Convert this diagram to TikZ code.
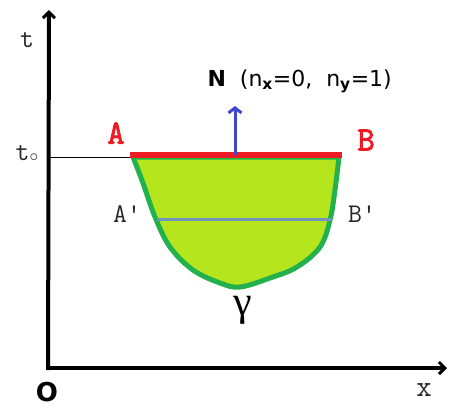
\documentclass[tikz,border=0pt]{standalone}
\usepackage{fontspec}
\setmainfont{DejaVu Sans}
\newfontfamily\monobold[FakeBold=2.5]{Latin Modern Mono}
\newfontfamily\gammafont{Liberation Serif}
\usetikzlibrary{arrows.meta}
\definecolor{redline}{HTML}{ED1C24}
\definecolor{fillgreen}{HTML}{B5E61D}
\definecolor{edgegreen}{HTML}{22B14C}
\definecolor{bluearrow}{HTML}{3F48CC}
\definecolor{midline}{HTML}{7092BE}
\tikzset{
  axis/.style={line width=4pt, -{Straight Barb[length=6pt,width=12pt,line width=3pt]}},
  monolab/.style={font=\ttfamily\fontsize{27}{27}\selectfont, text=black!85},
  redlab/.style={font=\monobold\fontsize{34}{34}\selectfont, text=redline},
}
\begin{document}
\begin{tikzpicture}[x=1pt,y=-1pt]
\useasboundingbox (0,0) rectangle (450,410);
% axes
\coordinate (O) at (49,368);
\coordinate (T) at (49,10);
\coordinate (X) at (447,368);
\draw[axis] (48,370) -- (T);
\draw[axis] (47,368) -- (X);
\node[monolab] (tlab) at (27,40) {t};
\node[monolab] (t0lab) at (27,154) {t\raisebox{-1pt}{\fontsize{16}{16}\selectfont$\circ$}};
\node[font=\bfseries\fontsize{26}{26}\selectfont] (Olab) at (47,392) {O};
\node[monolab, font=\ttfamily\fontsize{30}{30}\selectfont] (xlab) at (424,390) {x};
% region
\coordinate (A) at (130,155);
\coordinate (B) at (342,155);
\coordinate (Ap) at (157,219);
\coordinate (Bp) at (332,219);
\coordinate (T0) at (49,157);
\draw[line width=1pt] (T0) -- (A |- T0);
\filldraw[fill=fillgreen, draw=edgegreen, line width=5pt, line join=round]
  plot[smooth, tension=0.6] coordinates {(133,157) (143,183) (155,217) (170,247) (193,270) (220,283) (240,287) (270,278) (297,267) (320,247) (330,220) (335,190) (339,157)} -- cycle;
\draw[midline, line width=3pt] (Ap) -- (Bp);
\draw[redline, line width=6pt] (A) -- (B);
\coordinate (M) at (235,155);
\coordinate (Ntip) at (235,106);
\draw[bluearrow, line width=3pt, -{Straight Barb[length=5pt,width=13pt,line width=3pt]}] (M) -- (Ntip);
% labels
\node[redlab] (Alab) at (116,133) {A};
\node[redlab] (Blab) at (366,140) {B};
\node[monolab] (Aplab) at (127,214) {A'};
\node[monolab] (Bplab) at (362,214) {B'};
\node[font=\gammafont\fontsize{42}{42}\selectfont] (g) at (243,310) {γ};
\node[font=\fontsize{22}{22}\selectfont, anchor=west] (Nlab) at (204,81) {\textbf{N}\ \ (n\textsubscript{\textbf{x}}=0,\ \ n\textsubscript{\textbf{y}}=1)};
\end{tikzpicture}
\end{document}
